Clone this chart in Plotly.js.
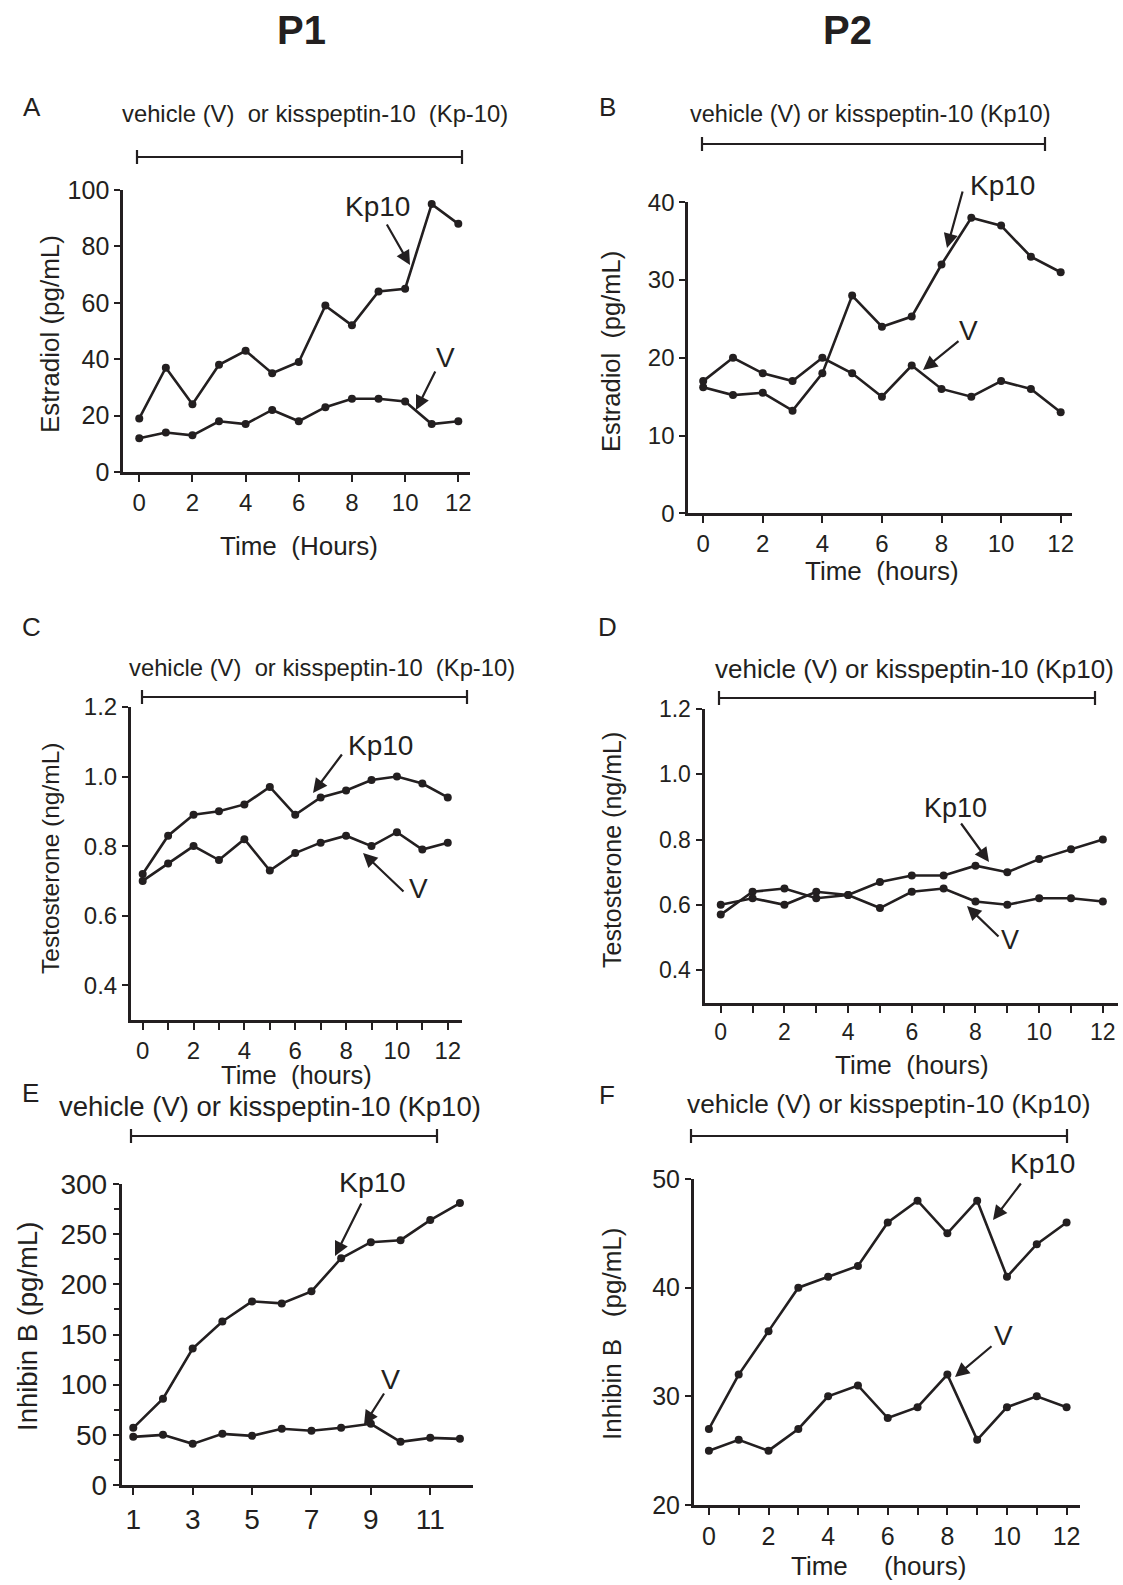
<!DOCTYPE html>
<html>
<head>
<meta charset="utf-8">
<script src="https://cdn.plot.ly/plotly-3.0.1.min.js"></script>
<style>html,body{margin:0;padding:0;background:#fff;}#chart{width:1123px;height:1585px;}</style>
</head>
<body>
<div id="chart"></div>
<script>
// ---------- DATA ----------
const timeHours = [0, 1, 2, 3, 4, 5, 6, 7, 8, 9, 10, 11, 12];
const timeHoursE = [1, 2, 3, 4, 5, 6, 7, 8, 9, 10, 11, 12];

// A: P1 estradiol (pg/mL)
const estradiolP1_Kp10 = [19, 37, 24, 38, 43, 35, 39, 59, 52, 64, 65, 95, 88];
const estradiolP1_V    = [12, 14, 13, 18, 17, 22, 18, 23, 26, 26, 25, 17, 18];
// B: P2 estradiol (pg/mL)
const estradiolP2_Kp10 = [16.2, 15.2, 15.5, 13.2, 18, 28, 24, 25.3, 32, 38, 37, 33, 31];
const estradiolP2_V    = [17, 20, 18, 17, 20, 18, 15, 19, 16, 15, 17, 16, 13];
// C: P1 testosterone (ng/mL)
const testoP1_Kp10 = [0.72, 0.83, 0.89, 0.90, 0.92, 0.97, 0.89, 0.94, 0.96, 0.99, 1.00, 0.98, 0.94];
const testoP1_V    = [0.70, 0.75, 0.80, 0.76, 0.82, 0.73, 0.78, 0.81, 0.83, 0.80, 0.84, 0.79, 0.81];
// D: P2 testosterone (ng/mL)
const testoP2_Kp10 = [0.57, 0.64, 0.65, 0.62, 0.63, 0.67, 0.69, 0.69, 0.72, 0.70, 0.74, 0.77, 0.80];
const testoP2_V    = [0.60, 0.62, 0.60, 0.64, 0.63, 0.59, 0.64, 0.65, 0.61, 0.60, 0.62, 0.62, 0.61];
// E: P1 inhibin B (pg/mL)
const inhibinP1_Kp10 = [57, 86, 136, 163, 183, 181, 193, 226, 242, 244, 264, 281];
const inhibinP1_V    = [48, 50, 41, 51, 49, 56, 54, 57, 61, 43, 47, 46];
// F: P2 inhibin B (pg/mL)
const inhibinP2_Kp10 = [27, 32, 36, 40, 41, 42, 46, 48, 45, 48, 41, 44, 46];
const inhibinP2_V    = [25, 26, 25, 27, 30, 31, 28, 29, 32, 26, 29, 30, 29];

// tick labels
const yTicksA = [0, 20, 40, 60, 80, 100];
const yTicksB = [0, 10, 20, 30, 40];
const yTicksT = [0.4, 0.6, 0.8, 1.0, 1.2];
const yTicksTLabels = ['0.4', '0.6', '0.8', '1.0', '1.2'];
const yTicksE = [0, 50, 100, 150, 200, 250, 300];
const yTicksF = [20, 30, 40, 50];
const xTicksEven = [0, 2, 4, 6, 8, 10, 12];
const xTicksE = [1, 3, 5, 7, 9, 11];

// ---------- STYLE / LAYOUT HELPERS ----------
const W = 1123, H = 1585;
const INK = '#231f20';
const FONT = 'Liberation Sans, Arial, Helvetica, sans-serif';
const PX = v => v / W;
const PY = v => 1 - v / H;

function trace(x, y, ax) {
  return {
    x: x, y: y, xaxis: 'x' + ax, yaxis: 'y' + ax,
    type: 'scatter', mode: 'lines+markers',
    line: {color: INK, width: 2.6},
    marker: {color: INK, size: 8},
    hoverinfo: 'skip', cliponaxis: false
  };
}

const data = [
  trace(timeHours, estradiolP1_Kp10, ''), trace(timeHours, estradiolP1_V, ''),
  trace(timeHours, estradiolP2_Kp10, '2'), trace(timeHours, estradiolP2_V, '2'),
  trace(timeHours, testoP1_Kp10, '3'), trace(timeHours, testoP1_V, '3'),
  trace(timeHours, testoP2_Kp10, '4'), trace(timeHours, testoP2_V, '4'),
  trace(timeHoursE, inhibinP1_Kp10, '5'), trace(timeHoursE, inhibinP1_V, '5'),
  trace(timeHours, inhibinP2_Kp10, '6'), trace(timeHours, inhibinP2_V, '6')
];

function xAx(d0, d1, range, tickvals, fs, anchor, minor) {
  const a = {
    domain: [PX(d0), PX(d1)], range: range, anchor: anchor,
    tickmode: 'array', tickvals: tickvals, ticktext: tickvals.map(String),
    showline: true, linewidth: 3, linecolor: INK,
    ticks: 'outside', ticklen: 7, tickwidth: 2, tickcolor: INK,
    showgrid: false, zeroline: false, fixedrange: true,
    tickfont: {family: FONT, size: fs, color: INK}
  };
  if (minor) a.minor = {tickmode: 'linear', tick0: 0, dtick: 1, ticks: 'outside', ticklen: 7, tickwidth: 2, tickcolor: INK, showgrid: false};
  return a;
}
function yAx(d0, d1, range, tickvals, ticktext, fs, anchor, minorDtick) {
  const a = {
    domain: [PY(d1), PY(d0)], range: range, anchor: anchor,
    tickmode: 'array', tickvals: tickvals, ticktext: ticktext,
    showline: true, linewidth: 3, linecolor: INK,
    ticks: 'outside', ticklen: 6, tickwidth: 2, tickcolor: INK,
    showgrid: false, zeroline: false, fixedrange: true,
    tickfont: {family: FONT, size: fs, color: INK}
  };
  if (minorDtick) a.minor = {tickmode: 'linear', tick0: 0, dtick: minorDtick, ticks: 'outside', ticklen: 5, tickwidth: 2, tickcolor: INK, showgrid: false};
  return a;
}

const annotations = [];
function txt(x, y, s, size, opts) {
  annotations.push(Object.assign({
    xref: 'paper', yref: 'paper', x: PX(x), y: PY(y), text: s, showarrow: false,
    xanchor: 'center', yanchor: 'middle',
    font: {family: FONT, size: size, color: INK}
  }, opts || {}));
}
function arrow(tx, ty, hx, hy) {
  annotations.push({
    xref: 'paper', yref: 'paper', x: PX(hx), y: PY(hy), ax: tx - hx, ay: ty - hy,
    text: '', showarrow: true, arrowhead: 2, arrowsize: 1.3, arrowwidth: 2.2,
    arrowcolor: INK, standoff: 0, startstandoff: 0
  });
}
const shapes = [];
function bracket(x0, x1, y) {
  const L = {type: 'line', xref: 'paper', yref: 'paper', line: {color: INK, width: 2.2}};
  shapes.push(Object.assign({}, L, {x0: PX(x0), x1: PX(x1), y0: PY(y), y1: PY(y)}));
  shapes.push(Object.assign({}, L, {x0: PX(x0), x1: PX(x0), y0: PY(y - 7), y1: PY(y + 7)}));
  shapes.push(Object.assign({}, L, {x0: PX(x1), x1: PX(x1), y0: PY(y - 7), y1: PY(y + 7)}));
}
const NB = '\u00A0';

// column headers
txt(301, 30, '<b>P1</b>', 40);
txt(847, 30, '<b>P2</b>', 40);

// ---- Panel A ----
txt(32, 107, 'A', 26);
txt(315, 114, 'vehicle (V)' + NB + NB + 'or kisspeptin-10' + NB + NB + '(Kp-10)', 23.8);
bracket(137, 462, 157);
txt(377, 206, 'Kp10', 28);
arrow(386, 223, 410, 265);
txt(445, 357, 'V', 28);
arrow(436, 370, 416, 410);
txt(50, 334, 'Estradiol (pg/mL)', 26, {textangle: -90});
txt(299, 546, 'Time' + NB + NB + '(Hours)', 26);

// ---- Panel B ----
txt(607, 107, 'B', 26);
txt(870, 114, 'vehicle (V) or kisspeptin-10 (Kp10)', 23.5);
bracket(702, 1045, 144);
txt(1002, 186, 'Kp10', 28);
arrow(963, 190, 947, 248);
txt(968, 331, 'V', 28);
arrow(960, 340, 923, 370);
txt(611, 352, 'Estradiol' + NB + NB + '(pg/mL)', 25.5, {textangle: -90});
txt(882, 571, 'Time' + NB + NB + '(hours)', 26);

// ---- Panel C ----
txt(31, 627, 'C', 26);
txt(322, 667, 'vehicle (V)' + NB + NB + 'or kisspeptin-10' + NB + NB + '(Kp-10)', 23.8);
bracket(142, 467, 697);
txt(380, 745, 'Kp10', 28);
arrow(343, 753, 313, 793);
txt(418, 888, 'V', 28);
arrow(405, 893, 363, 853);
txt(50, 858, 'Testosterone (ng/mL)', 24.5, {textangle: -90});
txt(296, 1075, 'Time' + NB + NB + '(hours)', 25.5);

// ---- Panel D ----
txt(607, 627, 'D', 26);
txt(914, 669, 'vehicle (V) or kisspeptin-10 (Kp10)', 26);
bracket(719, 1095, 698);
txt(955, 808, 'Kp10', 27);
arrow(960, 822, 989, 862);
txt(1010, 940, 'V', 27);
arrow(1000, 938, 967, 906);
txt(612, 850, 'Testosterone (ng/mL)', 25, {textangle: -90});
txt(912, 1065, 'Time' + NB + NB + '(hours)', 26);

// ---- Panel E ----
txt(30, 1093, 'E', 26);
txt(270, 1106, 'vehicle (V) or kisspeptin-10 (Kp10)', 27.5);
bracket(131, 437, 1136);
txt(372, 1182, 'Kp10', 28.5);
arrow(362, 1202, 335, 1256);
txt(390, 1379, 'V', 28.5);
arrow(385, 1392, 364, 1425);
txt(27, 1327, 'Inhibin B (pg/mL)', 27.5, {textangle: -90});

// ---- Panel F ----
txt(607, 1095, 'F', 26);
txt(888, 1104, 'vehicle (V) or kisspeptin-10 (Kp10)', 26.3);
bracket(691, 1067, 1136);
txt(1042, 1163, 'Kp10', 28);
arrow(1022, 1182, 993, 1220);
txt(1003, 1335, 'V', 28);
arrow(993, 1345, 955, 1377);
txt(612, 1334, 'Inhibin B' + NB + NB + NB + '(pg/mL)', 26, {textangle: -90});
txt(878, 1566, 'Time' + NB + NB + NB + NB + NB + '(hours)', 26);

const layout = {
  width: W, height: H, margin: {l: 0, r: 0, t: 0, b: 0},
  paper_bgcolor: '#fff', plot_bgcolor: '#fff', showlegend: false,
  font: {family: FONT, color: INK},
  xaxis:  xAx(123.3, 470, [-0.6, 12.44], xTicksEven, 24, 'y'),
  yaxis:  yAx(190, 472, [0, 100], yTicksA, yTicksA.map(String), 25, 'x'),
  xaxis2: xAx(688.3, 1072, [-0.5, 12.38], xTicksEven, 24, 'y2'),
  yaxis2: yAx(202.3, 513.3, [0, 40], yTicksB, yTicksB.map(String), 24, 'x2'),
  xaxis3: xAx(131, 462, [-0.46, 12.56], xTicksEven, 24, 'y3', true),
  yaxis3: yAx(707, 1020, [0.3, 1.2], yTicksT, yTicksTLabels, 24, 'x3'),
  xaxis4: xAx(704.5, 1117.5, [-0.51, 12.46], xTicksEven, 23, 'y4', true),
  yaxis4: yAx(709, 1002.7, [0.3, 1.2], yTicksT, yTicksTLabels, 23, 'x4'),
  xaxis5: xAx(121.7, 473, [0.61, 12.44], xTicksE, 28, 'y5'),
  yaxis5: yAx(1184, 1485, [0, 300], yTicksE, yTicksE.map(String), 28, 'x5', 25),
  xaxis6: xAx(694, 1080, [-0.5, 12.45], xTicksEven, 25, 'y6', true),
  yaxis6: yAx(1179, 1505, [20, 50], yTicksF, yTicksF.map(String), 25, 'x6'),
  annotations: annotations,
  shapes: shapes
};

Plotly.newPlot('chart', data, layout, {displayModeBar: false, staticPlot: true});
</script>
</body>
</html>
